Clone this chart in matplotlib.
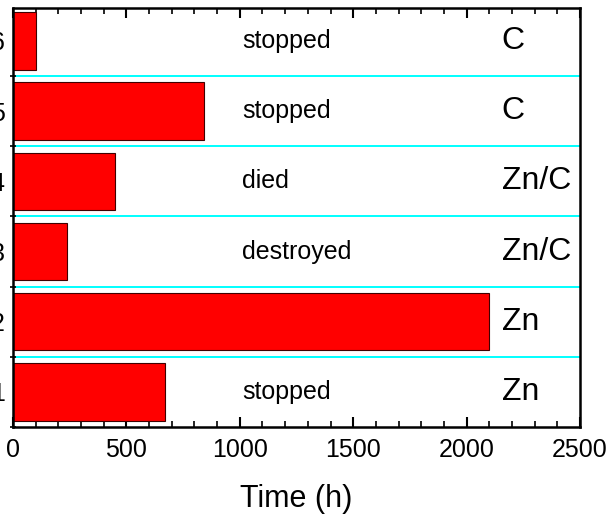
import matplotlib
matplotlib.use("Agg")
import matplotlib.pyplot as plt
from matplotlib.ticker import MultipleLocator

plt.rcParams['font.family'] = ['Liberation Sans', 'DejaVu Sans']

# Data
samples = [1, 2, 3, 4, 5, 6]
hours = [670, 2100, 240, 450, 840, 100]
status = ["stopped", "", "destroyed", "died", "stopped", "stopped"]
anode = ["Zn", "Zn", "Zn/C", "Zn/C", "C", "C"]

fig = plt.figure(figsize=(6.10, 5.16), dpi=100)
ax = fig.add_axes([13 / 610, 1 - 427 / 516, (580 - 13) / 610, (427 - 8) / 516])

ax.barh(samples, hours, height=0.82, color="#ff0000", edgecolor="#400000",
        linewidth=0.8, zorder=2)

# separators between rows
for y in [1.5, 2.5, 3.5, 4.5, 5.5]:
    ax.axhline(y, color="#00ffff", linewidth=1.4, zorder=1)

for y, s, a in zip(samples, status, anode):
    if s:
        ax.text(1010, y, s, fontsize=18, ha="left", va="center")
    ax.text(2155, y, a, fontsize=23, ha="left", va="center")

ax.set_xlim(0, 2500)
ax.set_ylim(0.5, 6.47)
ax.set_yticks(samples)
ax.set_yticklabels([str(s) for s in samples])

ax.xaxis.set_major_locator(MultipleLocator(500))
ax.xaxis.set_minor_locator(MultipleLocator(100))
ax.set_yticks([0.5, 1.5, 2.5, 3.5, 4.5, 5.5], minor=True)

ax.tick_params(axis="x", which="major", direction="in", length=7, width=1.5,
               top=True, labelsize=18, pad=8)
ax.tick_params(axis="x", which="minor", direction="in", length=4, width=1.2,
               top=True)
ax.tick_params(axis="y", which="major", length=0, labelsize=18, pad=6)
ax.tick_params(axis="y", which="minor", direction="inout", length=4, width=1.2)

for sp in ax.spines.values():
    sp.set_linewidth(1.8)

ax.set_xlabel("Time (h)", fontsize=22, labelpad=16)

fig.savefig("out.png", dpi=100)
